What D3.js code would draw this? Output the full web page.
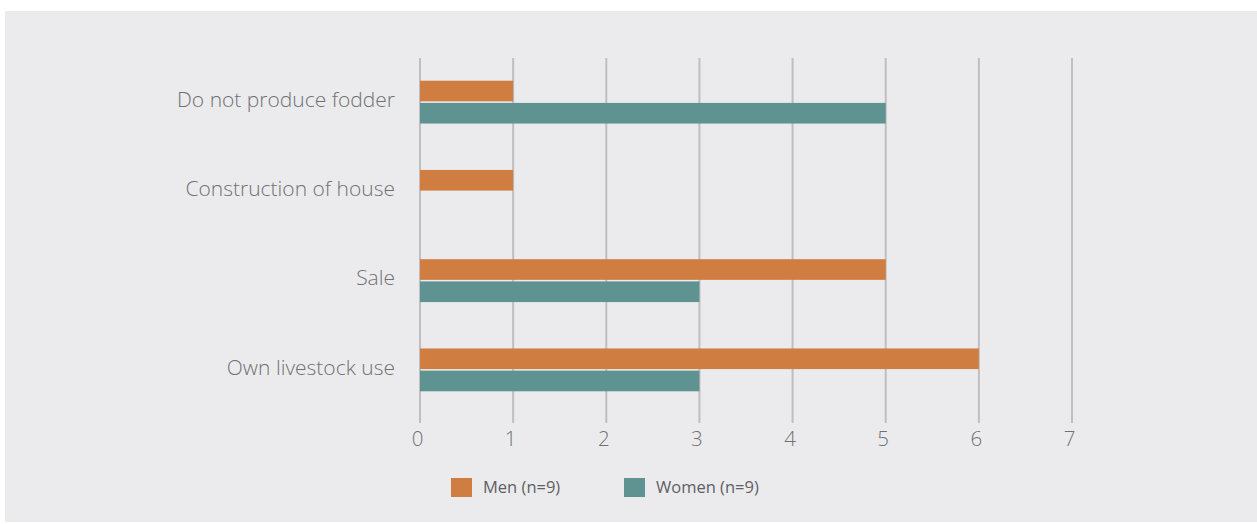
<!DOCTYPE html>
<html>
<head>
<meta charset="utf-8">
<script src="https://cdn.jsdelivr.net/npm/d3@7"></script>
<style>
  html, body { margin: 0; padding: 0; background: #ffffff; }
  svg { display: block; }
</style>
</head>
<body>
<script>
const categories = ["Do not produce fodder", "Construction of house", "Sale", "Own livestock use"];
const seriesNames = ["Men (n=9)", "Women (n=9)"];
const menValues = [1, 1, 5, 6];
const womenValues = [5, 0, 3, 3];
const xTicks = [0, 1, 2, 3, 4, 5, 6, 7];
const colors = ["#d07d41", "#5f9392"];

const W = 1257, H = 524;
const svg = d3.select("body").append("svg").attr("width", W).attr("height", H);

svg.append("rect").attr("x", 5).attr("y", 11).attr("width", W - 5).attr("height", H - 13)
  .attr("fill", "#ebebed");

const x = d3.scaleLinear().domain([0, 7]).range([420, 1072]);
const y = d3.scaleBand().domain(categories).range([57.5, 414.5]).paddingInner(0.52).paddingOuter(0.26);
const ySub = d3.scaleBand().domain([0, 1]).range([0, y.bandwidth()]).paddingInner(0.07);

const textColor = "#707173";
const font = "'Open Sans', sans-serif";

// gridlines
svg.append("g").selectAll("line").data(xTicks).join("line")
  .attr("x1", d => x(d)).attr("x2", d => x(d))
  .attr("y1", 58).attr("y2", 423)
  .attr("stroke", "#bfbfc1").attr("stroke-width", 2);

// tick labels via axis
const xAxis = d3.axisBottom(x).tickValues(xTicks).tickSize(0).tickPadding(0).tickFormat(d3.format("d"));
const gx = svg.append("g").attr("transform", "translate(-3,431)").call(xAxis);
gx.select(".domain").remove();
gx.selectAll("text").attr("font-family", font).attr("font-weight", 300)
  .attr("font-size", 20.5).attr("fill", textColor).attr("dy", "0.71em");

// category labels
const yAxis = d3.axisLeft(y).tickSize(0).tickPadding(0);
const gy = svg.append("g").attr("transform", "translate(395,-2)").call(yAxis);
gy.select(".domain").remove();
gy.selectAll("text").attr("font-family", font).attr("font-weight", 300)
  .attr("font-size", 21).attr("fill", textColor);

// bars
const series = [menValues, womenValues];
series.forEach((vals, si) => {
  svg.append("g").selectAll("rect").data(categories.map((c, i) => ({c, v: vals[i]})).filter(d => d.v > 0))
    .join("rect")
    .attr("x", x(0))
    .attr("y", d => y(d.c) + ySub(si))
    .attr("width", d => x(d.v) - x(0))
    .attr("height", ySub.bandwidth())
    .attr("fill", colors[si]);
});

// legend
const legendX = [451, 624];
const lg = svg.append("g");
seriesNames.forEach((name, i) => {
  lg.append("rect").attr("x", legendX[i]).attr("y", 478).attr("width", 21).attr("height", 19)
    .attr("fill", colors[i]);
  lg.append("text").attr("x", legendX[i] + 32).attr("y", 487.5).attr("dy", "0.35em")
    .attr("font-family", font).attr("font-size", 16.5).attr("fill", "#5f6063")
    .text(name);
});
</script>
</body>
</html>
